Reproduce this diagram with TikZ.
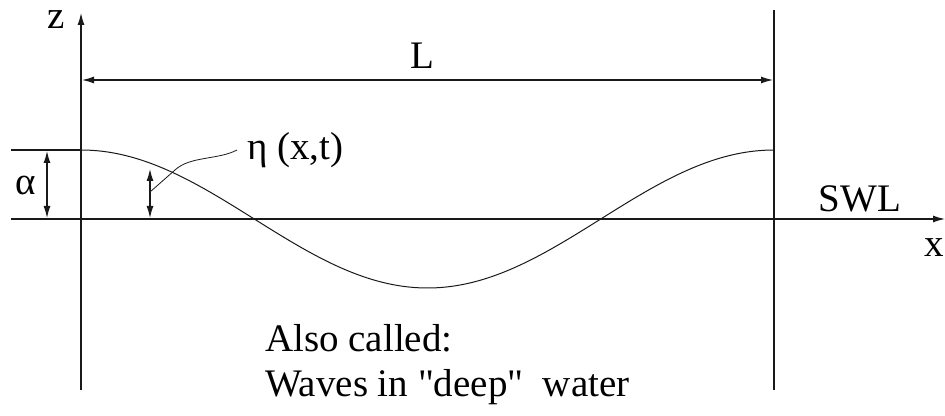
\documentclass[tikz,border=0pt]{standalone}
\usepackage{fontspec}
\setmainfont{Liberation Serif}
\newfontfamily\plainserif{Liberation Serif}
\usetikzlibrary{arrows.meta}
\begin{document}
\begin{tikzpicture}[x=1pt,y=1pt,
  ln/.style={line width=1.2pt, black!90},
  arr/.style={ln, -{Latex[length=12pt,width=7pt]}},
  darr/.style={ln, {Latex[length=12pt,width=7pt]}-{Latex[length=12pt,width=7pt]}},
  lbl/.style={inner sep=0pt, font=\fontsize{39}{46}\selectfont}]
\useasboundingbox (0,0) rectangle (945,415);
% axes and boundary lines
\coordinate (zb) at (81,25);
\coordinate (zt) at (81,402);
\coordinate (rb) at (774,25);
\coordinate (rt) at (774,405);
\coordinate (swlL) at (11,196);
\coordinate (swlR) at (945,196);
\coordinate (crL) at (11,265);
\coordinate (crR) at (81,265);
\draw[arr] (zb) -- (zt);
\draw[ln] (rb) -- (rt);
\draw[arr] (swlL) -- (swlR);
\draw[ln] (crL) -- (crR);
% L dimension
\coordinate (La) at (82,335);
\coordinate (Lb) at (773,335);
\draw[darr] (La) -- (Lb);
\node[lbl] (L) at (422,359.5) {L};
% alpha
\coordinate (aT) at (47,264);
\coordinate (aB) at (47,197);
\draw[darr] (aT) -- (aB);
\node[lbl] (alpha) at (25.5,230) {α};
% wave
\draw[line width=1pt, black!90] plot[domain=81:774, samples=200, smooth] (\x, {196+69*cos(0.519481*(\x-81))});
% eta arrow and leader
\coordinate (eT) at (150,246);
\coordinate (eB) at (150,197);
\draw[darr] (eT) -- (eB);
\coordinate (le0) at (150,223);
\coordinate (le1) at (175,245);
\coordinate (le2) at (237,265);
\draw[line width=0.8pt, black!90] (le0) -- (le1) .. controls (190,259) and (218,255) .. (le2);
\node[lbl, anchor=base west] (eta) at (247,255) {η (x,t)};
% labels
\node[lbl] (z) at (56,395) {z};
\node[lbl] (xl) at (934,167) {x};
\node[lbl] (swl) at (860,216) {SWL};
\node[lbl, anchor=base west] (t1) at (265,63) {Also called:};
\node[lbl, anchor=base west] (t2) at (265,18) {\plainserif Waves in "deep"\ \ water};
\end{tikzpicture}
\end{document}
